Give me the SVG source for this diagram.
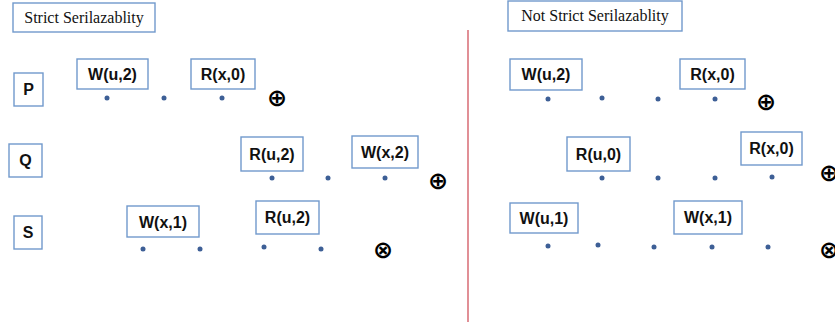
<svg xmlns="http://www.w3.org/2000/svg" width="835" height="324" viewBox="0 0 835 324">
  <style>
    .box { fill: #ffffff; stroke: #7199cc; stroke-width: 1.4; }
    .lbl { font-family: "Liberation Sans", Arial, sans-serif; font-weight: bold; font-size: 16px; fill: #111111; text-anchor: middle; }
    .title { font-family: "Liberation Serif", "Times New Roman", serif; font-size: 16px; fill: #111111; text-anchor: middle; }
    .dot { fill: #3d5f96; }
    .sym { font-family: "DejaVu Sans", sans-serif; font-weight: bold; font-size: 24px; fill: #000000; text-anchor: middle; }
  </style>
  <rect width="835" height="324" fill="#ffffff"/>

  <!-- divider between the two schedules -->
  <g id="connectors">
    <line x1="468" y1="30" x2="468" y2="322" stroke="#d4606a" stroke-width="1.4"/>
  </g>

  <!-- left: strict serializable schedule -->
  <g id="title-left"><rect class="box" x="13" y="3" width="142" height="29"/><text class="title" x="84" y="23">Strict Serilazablity</text></g>
  <g id="proc-P"><rect class="box" x="14" y="73" width="29" height="33"/><text class="lbl" x="28.5" y="95">P</text></g>
  <g id="proc-Q"><rect class="box" x="9" y="144" width="33" height="33"/><text class="lbl" x="25.5" y="166">Q</text></g>
  <g id="proc-S"><rect class="box" x="14" y="216" width="28" height="33"/><text class="lbl" x="28" y="238">S</text></g>

  <g id="L-P-wu2"><rect class="box" x="77" y="59" width="71" height="30"/><text class="lbl" x="112.5" y="80">W(u,2)</text></g>
  <g id="L-P-rx0"><rect class="box" x="191" y="59" width="64" height="30"/><text class="lbl" x="223" y="80">R(x,0)</text></g>
  <g id="L-Q-ru2"><rect class="box" x="241" y="137" width="62" height="34"/><text class="lbl" x="272" y="160">R(u,2)</text></g>
  <g id="L-Q-wx2"><rect class="box" x="352" y="136" width="66" height="32"/><text class="lbl" x="385" y="158">W(x,2)</text></g>
  <g id="L-S-wx1"><rect class="box" x="127" y="206" width="72" height="31"/><text class="lbl" x="163" y="228">W(x,1)</text></g>
  <g id="L-S-ru2"><rect class="box" x="256" y="201" width="63" height="33"/><text class="lbl" x="287.5" y="223">R(u,2)</text></g>

  <g id="L-dots">
    <circle class="dot" cx="107" cy="98" r="2.5"/>
    <circle class="dot" cx="164" cy="98" r="2.5"/>
    <circle class="dot" cx="222" cy="98" r="2.5"/>
    <circle class="dot" cx="272" cy="178" r="2.5"/>
    <circle class="dot" cx="328" cy="178" r="2.5"/>
    <circle class="dot" cx="385" cy="178" r="2.5"/>
    <circle class="dot" cx="143" cy="249" r="2.5"/>
    <circle class="dot" cx="200" cy="249" r="2.5"/>
    <circle class="dot" cx="264" cy="247" r="2.5"/>
    <circle class="dot" cx="321" cy="249" r="2.5"/>
  </g>
  <g id="L-ends">
    <text class="sym" x="277" y="106">⊕</text>
    <text class="sym" x="438" y="189">⊕</text>
    <text class="sym" x="383" y="258">⊗</text>
  </g>

  <!-- right: schedule that is not strictly serializable -->
  <g id="title-right"><rect class="box" x="508" y="1" width="174" height="30"/><text class="title" x="595" y="21">Not Strict Serilazablity</text></g>

  <g id="R-P-wu2"><rect class="box" x="510" y="59" width="72" height="31"/><text class="lbl" x="546" y="80">W(u,2)</text></g>
  <g id="R-P-rx0"><rect class="box" x="680" y="59" width="65" height="30"/><text class="lbl" x="712.5" y="80">R(x,0)</text></g>
  <g id="R-Q-ru0"><rect class="box" x="567" y="137" width="63" height="34"/><text class="lbl" x="598.5" y="160">R(u,0)</text></g>
  <g id="R-Q-rx0"><rect class="box" x="741" y="132" width="61" height="33"/><text class="lbl" x="771.5" y="154">R(x,0)</text></g>
  <g id="R-S-wu1"><rect class="box" x="510" y="203" width="68" height="30"/><text class="lbl" x="544" y="224">W(u,1)</text></g>
  <g id="R-S-wx1"><rect class="box" x="674" y="201" width="68" height="33"/><text class="lbl" x="708" y="223">W(x,1)</text></g>

  <g id="R-dots">
    <circle class="dot" cx="548" cy="99" r="2.5"/>
    <circle class="dot" cx="602" cy="98" r="2.5"/>
    <circle class="dot" cx="658" cy="99" r="2.5"/>
    <circle class="dot" cx="715" cy="99" r="2.5"/>
    <circle class="dot" cx="602" cy="178" r="2.5"/>
    <circle class="dot" cx="658" cy="178" r="2.5"/>
    <circle class="dot" cx="715" cy="178" r="2.5"/>
    <circle class="dot" cx="772" cy="177" r="2.5"/>
    <circle class="dot" cx="548" cy="246" r="2.5"/>
    <circle class="dot" cx="598" cy="245" r="2.5"/>
    <circle class="dot" cx="654" cy="247" r="2.5"/>
    <circle class="dot" cx="712" cy="247" r="2.5"/>
    <circle class="dot" cx="768" cy="247" r="2.5"/>
  </g>
  <g id="R-ends">
    <text class="sym" x="766" y="110">⊕</text>
    <text class="sym" x="829" y="181">⊕</text>
    <text class="sym" x="829" y="258">⊗</text>
  </g>
</svg>
